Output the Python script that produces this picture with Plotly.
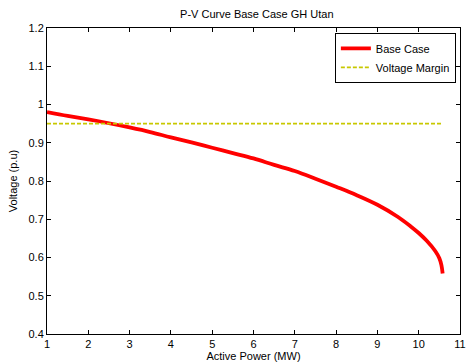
import plotly.graph_objects as go

power = [1, 1.5, 2, 2.5, 3, 3.5, 4, 4.5, 5, 5.5, 6, 6.5, 7, 7.5, 8, 8.5, 9, 9.5, 9.8, 10, 10.2, 10.4, 10.5, 10.55, 10.58]
voltage = [0.980, 0.970, 0.961, 0.951, 0.940, 0.928, 0.914, 0.901, 0.887, 0.873, 0.859, 0.842, 0.826, 0.806, 0.785, 0.763, 0.738, 0.706, 0.682, 0.664, 0.643, 0.617, 0.598, 0.580, 0.558]
margin_x = [1, 10.58]
margin_v = [0.95, 0.95]

fig = go.Figure()
fig.add_trace(go.Scatter(x=power, y=voltage, mode="lines", name="Base Case",
                         line=dict(color="#ff0000", width=3.8, shape="spline")))
fig.add_trace(go.Scatter(x=margin_x, y=margin_v, mode="lines", name="Voltage Margin",
                         line=dict(color="rgb(200,200,0)", width=1.8, dash="4px,2px")))

axis_common = dict(showgrid=False, zeroline=False, showline=True, linecolor="black", linewidth=1,
                   mirror="ticks", ticks="inside", ticklen=4, tickcolor="black",
                   ticklabeloverflow="allow",
                   tickfont=dict(family="Liberation Sans, Arial", size=11, color="black"))
fig.update_layout(
    width=467, height=364,
    margin=dict(l=47, r=1, t=28, b=30),
    paper_bgcolor="white", plot_bgcolor="white",
    title=dict(text="P-V Curve Base Case GH Utan", x=0.55, xanchor="center", y=0.96, yanchor="middle",
               font=dict(family="Liberation Sans, Arial", size=11, color="black")),
    xaxis=dict(range=[1, 11], dtick=1, title=dict(text="Active Power (MW)", standoff=3,
               font=dict(family="Liberation Sans, Arial", size=11, color="black")), **axis_common),
    yaxis=dict(range=[0.4, 1.2], dtick=0.1, tickformat="~g",
               title=dict(text="Voltage (p.u)", standoff=8,
               font=dict(family="Liberation Sans, Arial", size=11, color="black")), **axis_common),
    legend=dict(x=0.99, xanchor="right", y=0.984, yanchor="top", bordercolor="black", borderwidth=1,
                bgcolor="white", font=dict(family="Liberation Sans, Arial", size=11, color="black"),
                tracegroupgap=0),
    showlegend=True,
)
fig.write_html("out.html")
